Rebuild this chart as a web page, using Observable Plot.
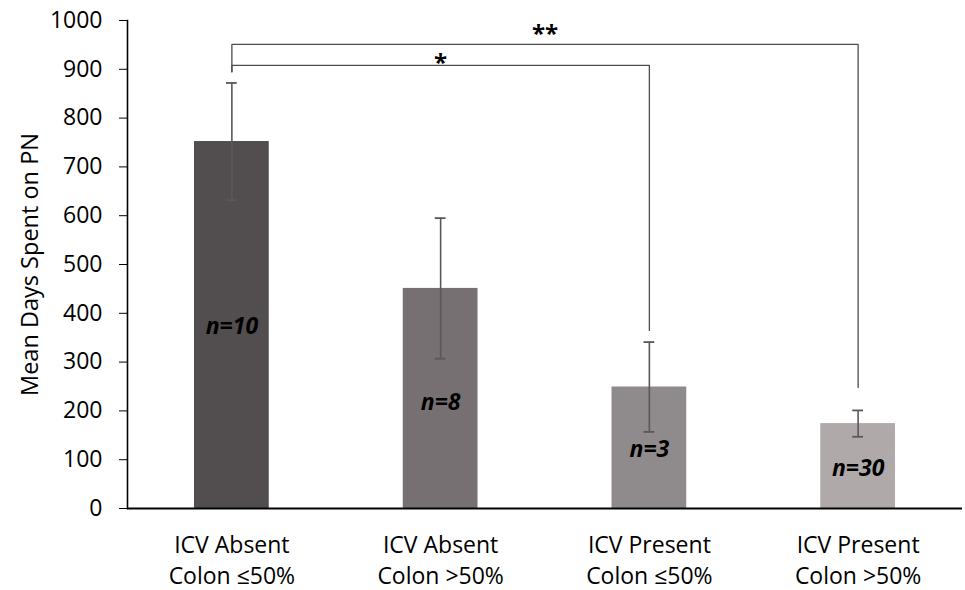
<!DOCTYPE html>
<html>
<head>
<meta charset="utf-8">
<script src="https://cdn.jsdelivr.net/npm/d3@7"></script>
<script src="https://cdn.jsdelivr.net/npm/@observablehq/plot@0.6"></script>
<style>
  body { margin: 0; background: #fff; }
  #chart svg { font-family: "Open Sans", "Noto Sans", sans-serif; }
</style>
</head>
<body>
<div id="chart"></div>
<script>
// Groups (ileocecal valve status and remaining colon)
const groupLine1 = ["ICV Absent", "ICV Absent", "ICV Present", "ICV Present"];
const groupLine2 = ["Colon ≤50%", "Colon >50%", "Colon ≤50%", "Colon >50%"];
// Mean days on parenteral nutrition and error half-width
const meanDays = [752, 451, 249, 174];
const errorDays = [120, 144, 92, 27];
// Sample sizes written inside the bars, and the height they sit at
const sampleLabels = ["n=10", "n=8", "n=3", "n=30"];
const sampleLabelY = [373, 217, 121, 82];
const barColors = ["#524d4f", "#767072", "#8f8a8b", "#afa9aa"];
const yTicks = [0, 100, 200, 300, 400, 500, 600, 700, 800, 900, 1000];

// Significance brackets: from group, to group, bracket height, leg ends, marker
const compFrom = [0, 0];
const compTo = [2, 3];
const compHeight = [908, 951];
const compFromBottom = [895, 895];
const compToBottom = [365, 248];
const compMarks = ["*", "**"];
const compMarkY = [912, 971];

const bars = meanDays.map((v, i) => ({
  i, mean: v, lo: v - errorDays[i], hi: v + errorDays[i],
  label: sampleLabels[i], labelY: sampleLabelY[i], color: barColors[i],
  name: groupLine1[i] + "\n" + groupLine2[i]
}));

const bracketPts = compFrom.flatMap((f, k) => [
  {k, x: f, y: compFromBottom[k]},
  {k, x: f, y: compHeight[k]},
  {k, x: compTo[k], y: compHeight[k]},
  {k, x: compTo[k], y: compToBottom[k]}
]);
const bracketLabels = compFrom.map((f, k) => ({
  x: (f + compTo[k]) / 2, y: compMarkY[k], text: compMarks[k]
}));

const errColor = "#5b5759";

const chart = Plot.plot({
  width: 965,
  height: 590,
  marginLeft: 127,
  marginRight: 3,
  marginTop: 20,
  marginBottom: 82,
  x: {domain: [-0.5, 3.5], axis: null},
  y: {domain: [0, 1000], axis: null},
  marks: [
    Plot.rectY(bars, {
      x1: d => d.i - 0.5, x2: d => d.i + 0.5, y: "mean",
      fill: "color", insetLeft: 67, insetRight: 67
    }),
    // error bars with end caps
    Plot.ruleX(bars, {x: "i", y1: "lo", y2: "hi", stroke: errColor, strokeWidth: 1.6}),
    Plot.ruleY(bars, {x1: d => d.i - 0.5, x2: d => d.i + 0.5, y: "hi", insetLeft: 99, insetRight: 99, stroke: errColor, strokeWidth: 1.8}),
    Plot.ruleY(bars, {x1: d => d.i - 0.5, x2: d => d.i + 0.5, y: "lo", insetLeft: 99, insetRight: 99, stroke: errColor, strokeWidth: 1.8}),
    // significance brackets
    Plot.line(bracketPts, {x: "x", y: "y", z: "k", stroke: "#4d4d4d", strokeWidth: 1.3, curve: "linear"}),
    Plot.text(bracketLabels, {x: "x", y: "y", text: "text", fontSize: 24, fontWeight: "bold", fill: "#000"}),
    // sample sizes
    Plot.text(bars, {x: "i", y: "labelY", text: "label", fontSize: 23, fontWeight: "bold", fontStyle: "italic", fill: "#000"}),
    // axes
    Plot.axisY(yTicks, {
      tickSize: 8, tickPadding: 17, fontSize: 23, stroke: "#000", fill: "#000",
      tickFormat: d => String(d), label: null
    }),
    Plot.text(["Mean Days Spent on PN"], {
      frameAnchor: "left", textAnchor: "middle", rotate: -90, dx: -97, fontSize: 23.5, fill: "#000"
    }),
    Plot.frame({anchor: "left", stroke: "#000", strokeWidth: 1.6}),
    Plot.ruleY([0], {stroke: "#000", strokeWidth: 1.8}),
    Plot.text(bars, {x: "i", y: 0, text: "name", dy: 22, lineAnchor: "top", lineHeight: 1.36, fontSize: 23, fill: "#000"})
  ]
});
document.getElementById("chart").append(chart);
</script>
</body>
</html>
